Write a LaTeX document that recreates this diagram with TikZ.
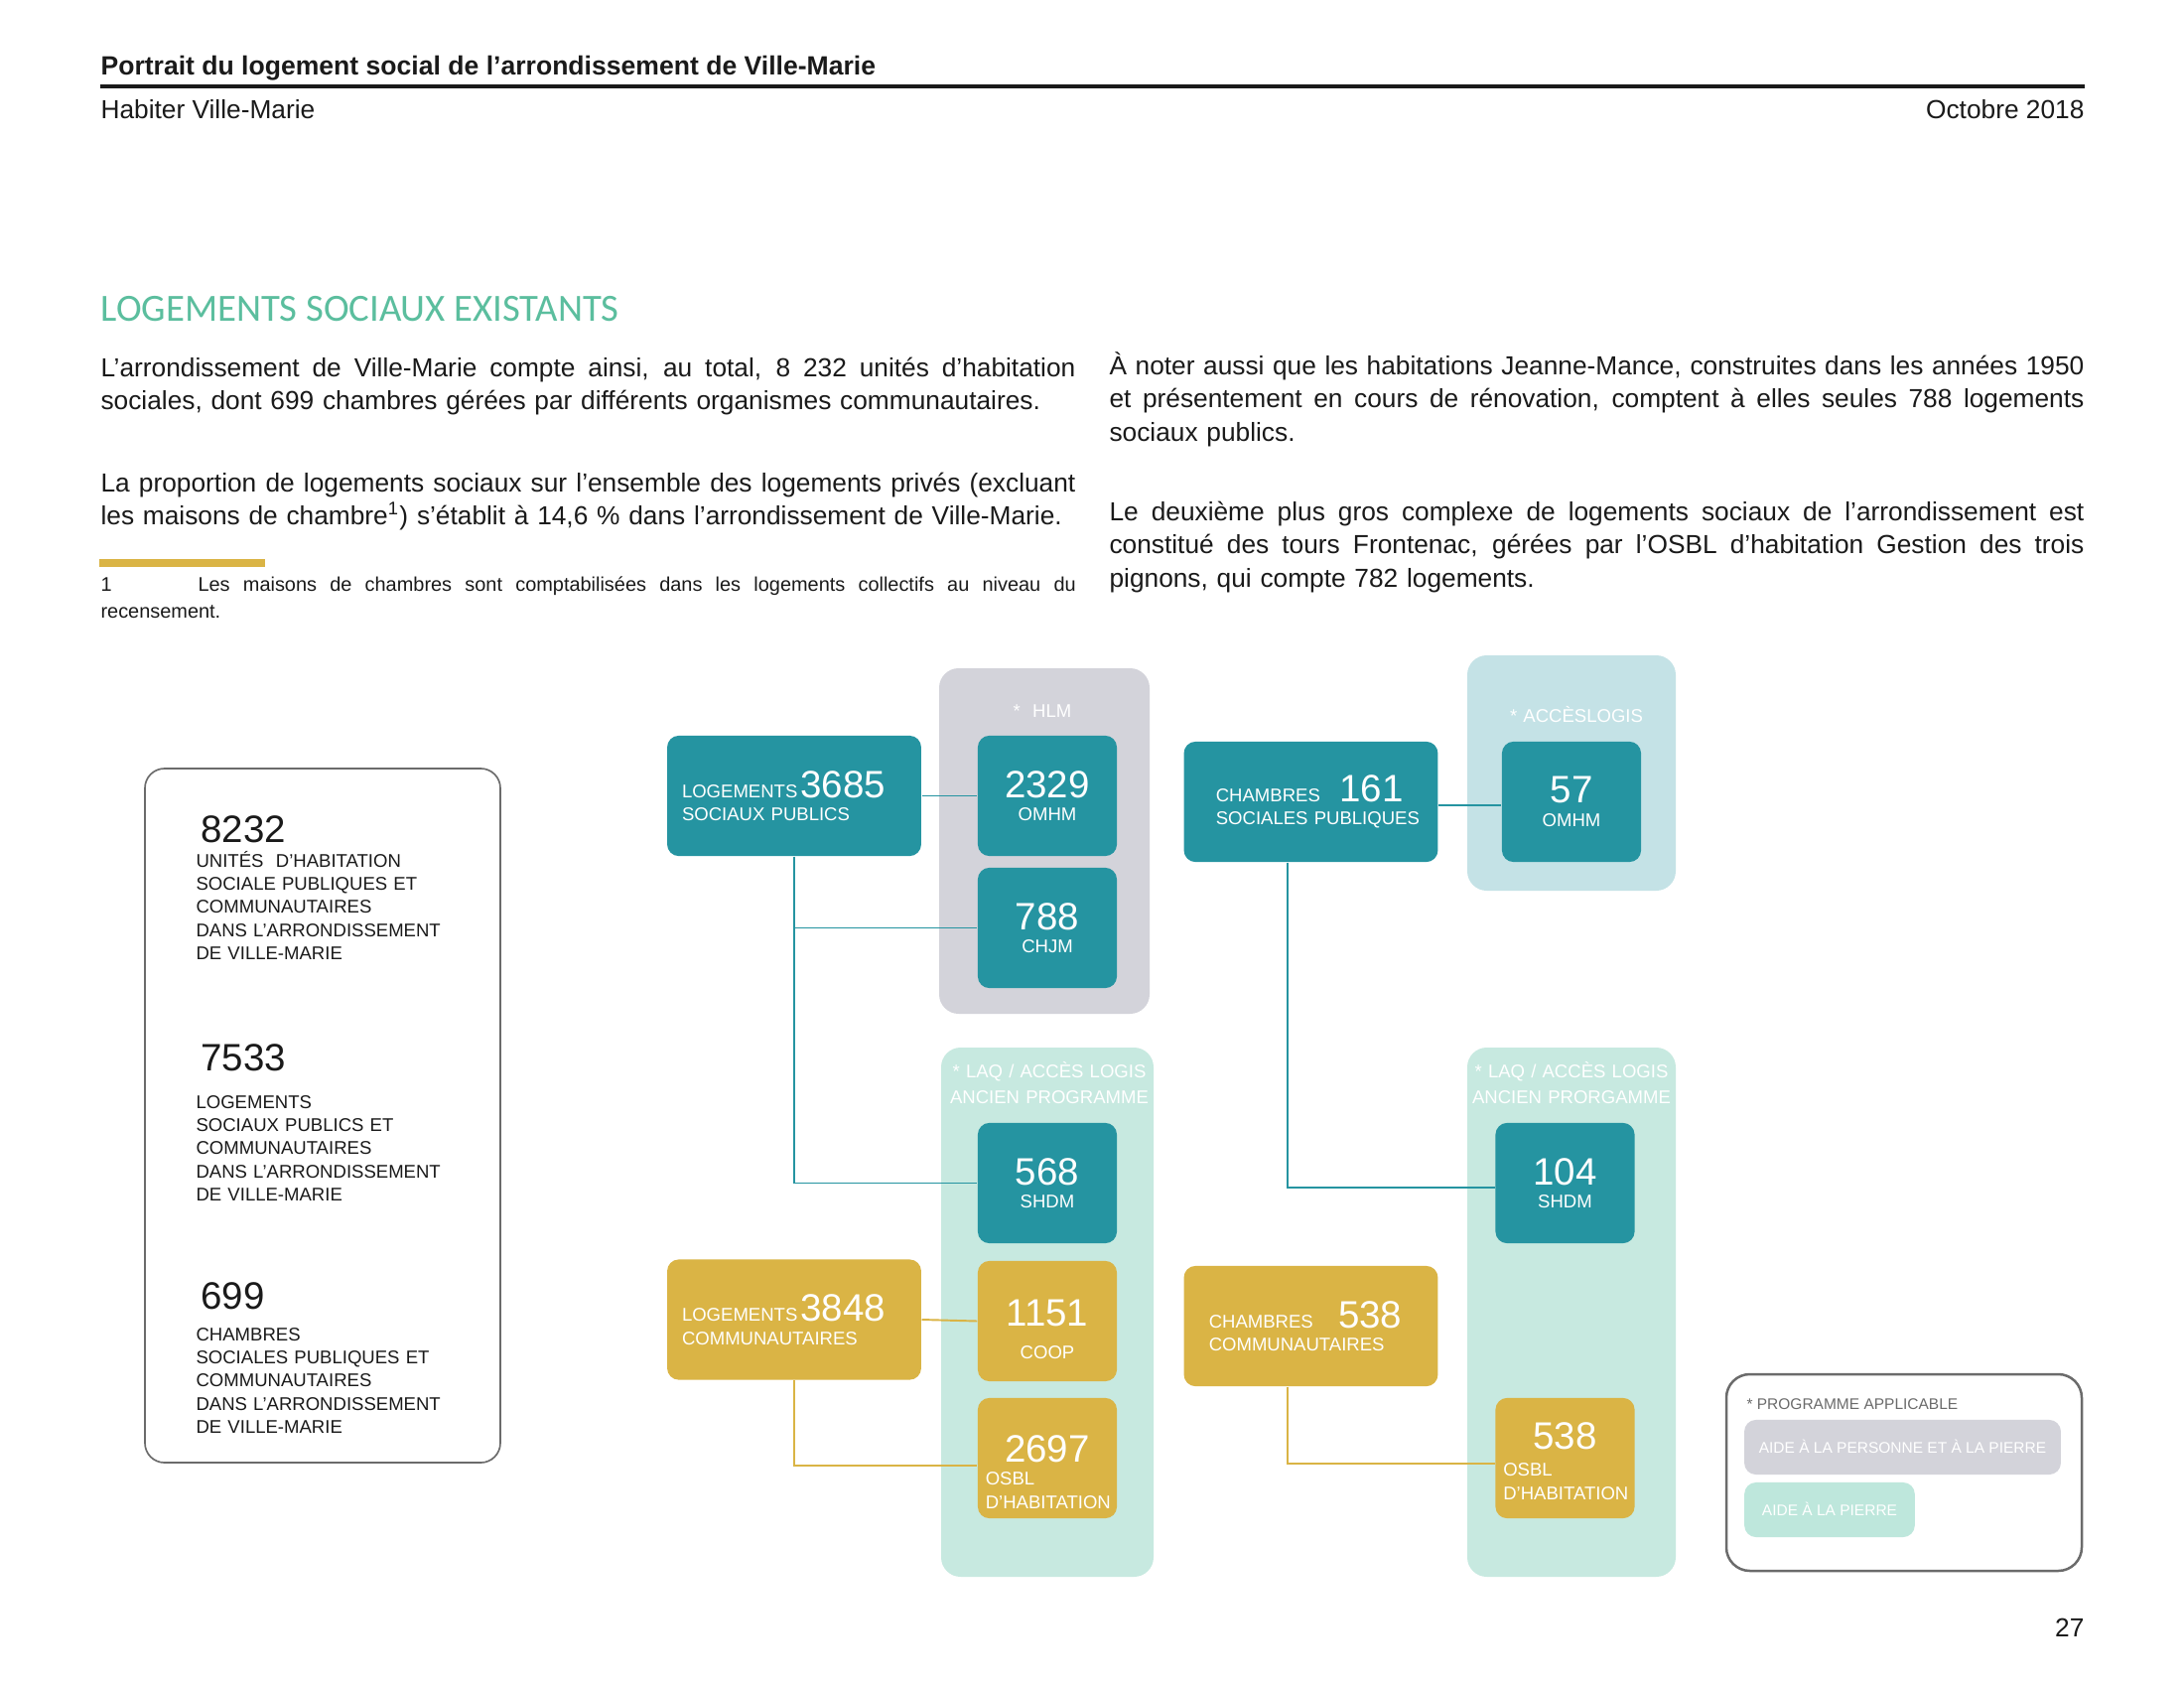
\documentclass[tikz,border=0pt]{standalone}
\usepackage{fontspec}
\setmainfont{Liberation Sans}
\newfontfamily\headfont{Carlito}
\definecolor{Ink}{HTML}{1A1A1A}
\definecolor{Teal}{HTML}{2594A1}
\definecolor{Gold}{HTML}{DAB445}
\definecolor{HlmGrey}{HTML}{D3D3DA}
\definecolor{Mint}{HTML}{C7E9E0}
\definecolor{SkyMint}{HTML}{C4E2E6}
\definecolor{PillMint}{HTML}{BEE7DC}
\definecolor{HeadGreen}{HTML}{5BBE9E}
\definecolor{FrameGrey}{HTML}{6B6B6B}
\newcommand{\bignum}{\fontsize{13.9}{14}\selectfont}
\newcommand{\jline}[2][124.7mm]{\leavevmode{\spaceskip=0.278em plus 1em minus 0.05em\hbox to #1{#2}}}

\begin{document}
\begin{tikzpicture}[x=0.127mm,y=-0.127mm,every node/.style={text=Ink,inner sep=0pt},
 body/.style={font=\fontsize{9.5}{12.24}\selectfont,anchor=base west,text width=124.7mm,align=left},
 box/.style={rounded corners=1.5mm,text=white,font=\fontsize{6.7}{8.5}\selectfont,minimum height=15.4mm},
 tealbox/.style={box,fill=Teal},goldbox/.style={box,fill=Gold},
 bigbox/.style={minimum width=32.5mm,text width=28.7mm,align=left},
 smallbox/.style={minimum width=17.8mm,align=center},
 osblbox/.style={minimum width=17.8mm,text width=15.8mm,align=left},
 grouplabel/.style={text=white,font=\fontsize{6.7}{9.7}\selectfont,anchor=base,text width=30mm,align=center},
 sumnum/.style={font=\bignum,anchor=base west},
 sumtext/.style={font=\fontsize{6.7}{8.46}\selectfont,anchor=base west,text width=40mm,align=left},
 pill/.style={rounded corners=1.5mm,text=white,font=\fontsize{5.6}{6}\selectfont,text height=4pt,text depth=0pt,minimum height=7mm},
 tealline/.style={Teal,line width=0.7pt},goldline/.style={Gold,line width=0.7pt}]
\fill[white] (0,0) rectangle (2200,1700);\useasboundingbox (0,0) rectangle (2200,1700);
\node[anchor=base west,font=\bfseries\fontsize{9.6}{11}\selectfont] (title) at (101,75) {Portrait du logement social de l’arrondissement de Ville-Marie};
\draw[Ink,line width=1.1pt] (101,87) -- (2100,87);
\node[anchor=base west,font=\fontsize{9.5}{11}\selectfont] (sub) at (101,119) {Habiter Ville-Marie};
\node[anchor=base east,font=\fontsize{9.5}{11}\selectfont] (date) at (2100,119) {Octobre 2018};
\node[anchor=base west,font=\headfont\fontsize{14}{15}\selectfont,text=HeadGreen] (head) at (101,323) {LOGEMENTS SOCIAUX EXISTANTS};
\node[body] (parA) at (101,379) {\jline{L’arrondissement de Ville-Marie compte ainsi, au total, 8~232 unités d’habitation}\\\mbox{sociales, dont 699 chambres gérées par différents organismes communautaires.}};
\node[body] (parB) at (101,495) {\jline{La proportion de logements sociaux sur l’ensemble des logements privés (excluant}\\\mbox{les maisons de chambre\textsuperscript{1}) s’établit à 14,6~\% dans l’arrondissement de Ville-Marie.}};
\fill[Gold] (100,563) rectangle (267,571);
\node[anchor=base west,font=\fontsize{7.2}{9}\selectfont] (fnnum) at (101,595) {1};
\node[anchor=base west,font=\fontsize{7.2}{9}\selectfont,text width=112.3mm,align=left] (fntext) at (199,595) {\jline[112.3mm]{Les maisons de chambres sont comptabilisées dans les logements collectifs au niveau du}};
\node[anchor=base west,font=\fontsize{7.2}{9}\selectfont] (fnend) at (101,622) {recensement.};
\node[body] (parC) at (1117,377) {\jline{À noter aussi que les habitations Jeanne-Mance, construites dans les années 1950}\\\jline{et présentement en cours de rénovation, comptent à elles seules 788 logements}\\\mbox{sociaux publics.}};
\node[body] (parD) at (1117,524) {\jline{Le deuxième plus gros complexe de logements sociaux de l’arrondissement est}\\\jline{constitué des tours Frontenac, gérées par l’OSBL d’habitation Gestion des trois}\\\mbox{pignons, qui compte 782 logements.}};
\draw[FrameGrey,line width=0.6pt,rounded corners=2.5mm] (146,774) rectangle (504,1473);
\node[sumnum] (tot) at (202,848) {8232};
\node[sumtext] (totdesc) at (197,873) {UNITÉS\ \ D’HABITATION\\SOCIALE PUBLIQUES ET\\COMMUNAUTAIRES\\DANS L’ARRONDISSEMENT\\DE VILLE-MARIE};
\node[sumnum] (log) at (202,1078) {7533};
\node[sumtext] (logdesc) at (197,1116) {LOGEMENTS\\SOCIAUX PUBLICS ET\\COMMUNAUTAIRES\\DANS L’ARRONDISSEMENT\\DE VILLE-MARIE};
\node[sumnum] (chb) at (202,1318) {699};
\node[sumtext] (chbdesc) at (197,1350) {CHAMBRES\\SOCIALES PUBLIQUES ET\\COMMUNAUTAIRES\\DANS L’ARRONDISSEMENT\\DE VILLE-MARIE};
\fill[HlmGrey,rounded corners=2.5mm] (946,673) rectangle (1158,1021);
\fill[Mint,rounded corners=2.5mm] (948,1055) rectangle (1162,1588);
\fill[SkyMint,rounded corners=2.5mm] (1478,660) rectangle (1688,897);
\fill[Mint,rounded corners=2.5mm] (1478,1055) rectangle (1688,1588);
\node[grouplabel] (hlm) at (1050,722) {*\ \ HLM};
\node[grouplabel] (acces) at (1588,727) {* ACCÈSLOGIS};
\node[grouplabel] (laqA) at (1057,1085) {* LAQ / ACCÈS LOGIS\\ANCIEN PROGRAMME};
\node[grouplabel] (laqB) at (1583,1085) {* LAQ / ACCÈS LOGIS\\ANCIEN PRORGAMME};
\node[tealbox,bigbox] (pub) at (800,801.5) {LOGEMENTS\,{\bignum 3685}\\SOCIAUX PUBLICS};
\node[goldbox,bigbox] (com) at (800,1329) {LOGEMENTS\,{\bignum 3848}\\COMMUNAUTAIRES};
\node[tealbox,bigbox] (cpub) at (1320.5,807.5) {\hspace*{2.2mm}CHAMBRES\hspace{2.5mm}{\bignum 161}\\\hspace*{2.2mm}\mbox{SOCIALES PUBLIQUES}};
\node[goldbox,bigbox] (cchr) at (1320.5,1335.5) {\hspace*{1.3mm}CHAMBRES\hspace{3.2mm}{\bignum 538}\\\hspace*{1.3mm}COMMUNAUTAIRES};
\node[tealbox,smallbox] (omhm) at (1055,801.5) {{\bignum 2329}\\OMHM};
\node[tealbox,smallbox] (chjm) at (1055,934.5) {{\bignum 788}\\CHJM};
\node[tealbox,smallbox] (shdm) at (1055,1191.5) {{\bignum 568}\\SHDM};
\node[goldbox,smallbox] (coop) at (1055,1330.5) {{\rule{0pt}{5.6mm}\bignum 1151}\\[1.2mm]COOP};
\node[goldbox,osblbox] (osbl) at (1055,1468.5) {\makebox[\linewidth]{\rule{0pt}{6.9mm}\bignum 2697}\\OSBL\\D’HABITATION};
\node[tealbox,smallbox] (omhmB) at (1583,807.5) {{\bignum 57}\\OMHM};
\node[tealbox,smallbox] (shdmB) at (1576.5,1191.5) {{\bignum 104}\\SHDM};
\node[goldbox,osblbox] (osblB) at (1576.5,1468.5) {\makebox[\linewidth]{\rule{0pt}{4.2mm}\bignum 538}\\[0.5mm]OSBL\\D’HABITATION};
\draw[tealline] (pub.east) -- (omhm.west);
\draw[tealline] (pub.south) |- (shdm.west);
\draw[tealline] (pub.south |- chjm.west) -- (chjm.west);
\draw[goldline] (com.east) -- (coop.west);
\draw[goldline] (com.south) |- ([yshift=-1mm]osbl.west);
\draw[tealline] ([yshift=-0.5mm]cpub.east) -- ([yshift=-0.5mm]omhmB.west);
\draw[tealline] ([xshift=-3mm]cpub.south) |- ([yshift=-0.6mm]shdmB.west);
\draw[goldline] ([xshift=-3mm]cchr.south) |- ([yshift=-0.7mm]osblB.west);
\draw[FrameGrey,line width=0.9pt,rounded corners=3mm] (1739,1384) rectangle (2097,1582);
\node[anchor=base west,text=FrameGrey,font=\fontsize{5.6}{6}\selectfont] (legtitle) at (1759,1419) {* PROGRAMME APPLICABLE};
\node[pill,fill=HlmGrey,minimum width=40.5mm] (pillA) at (1916.5,1457.5) {AIDE À LA PERSONNE ET À LA PIERRE};
\node[pill,fill=PillMint,minimum width=21.8mm] (pillB) at (1843,1520.5) {AIDE À LA PIERRE};
\node[anchor=base east,font=\fontsize{9.5}{11}\selectfont] (page) at (2100,1648) {27};
\end{tikzpicture}
\end{document}
